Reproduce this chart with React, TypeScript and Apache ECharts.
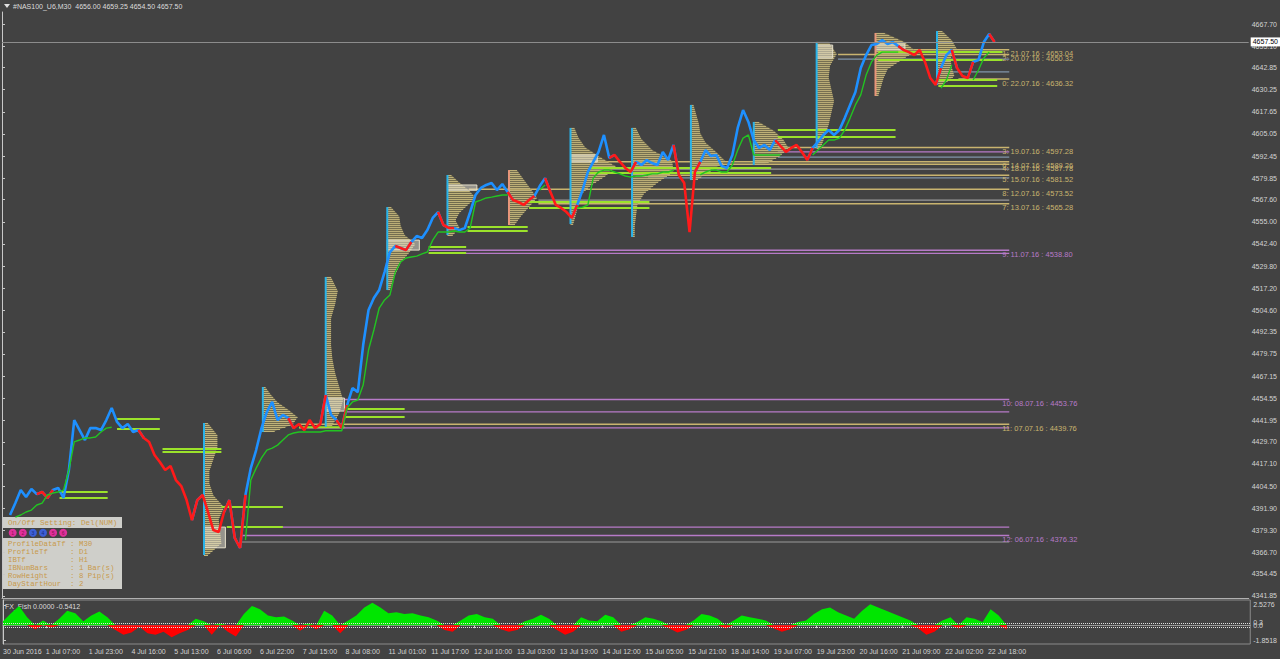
import React, { useEffect, useRef } from "react";
import * as echarts from "echarts";

// ---------- axis labels ----------
const timeLabels = ["30 Jun 2016","1 Jul 07:00","1 Jul 23:00","4 Jul 16:00","5 Jul 13:00","6 Jul 06:00","6 Jul 22:00","7 Jul 15:00","8 Jul 08:00","11 Jul 01:00","11 Jul 17:00","12 Jul 10:00","13 Jul 03:00","13 Jul 19:00","14 Jul 12:00","15 Jul 05:00","15 Jul 21:00","18 Jul 14:00","19 Jul 07:00","19 Jul 23:00","20 Jul 16:00","21 Jul 09:00","22 Jul 02:00","22 Jul 18:00"];
const barsPerTimeLabel = 32;
const priceTicks = [4667.70,4655.10,4642.85,4630.25,4617.65,4605.05,4592.45,4579.85,4567.60,4555.00,4542.40,4529.80,4517.20,4504.60,4492.35,4479.75,4467.15,4454.55,4441.95,4429.70,4417.10,4404.50,4391.90,4379.30,4366.70,4354.45,4341.85];
const fishTicks = [2.5276, 0.3, 0.0, -1.8518];
const fishTickLabels = ["2.5276", "0.3", "0.0", "-1.8518"];
const lastPrice = 4657.5;

// ---------- price (M30 bars, sampled every 4 bars from bar 6) ----------
const priceStart = 6;
const priceStep = 4;
const priceVals = [4388.0,4394.8,4402.2,4398.2,4402.8,4399.9,4401.1,4397.7,4402.2,4403.4,4397.7,4413.6,4442.1,4436.4,4430.7,4437.5,4437.5,4436.4,4442.1,4449.0,
4441.0,4437.5,4439.8,4435.3,4436.4,4431.9,4429.6,4422.2,4418.2,4413.6,4415.9,4407.9,4404.5,4396.5,4385.1,4396.5,4399.4,4389.7,4379.4,4378.3,
4389.7,4396.5,4374.9,4369.2,4399.4,4414.7,4425.0,4437.5,4446.7,4452.4,4442.1,4445.0,4443.2,4437.5,4439.8,4436.4,4442.1,4437.5,4439.8,4456.4,
4445.0,4442.1,4437.5,4450.6,4460.3,4458.0,4484.8,4504.8,4511.6,4516.2,4526.4,4537.8,4541.2,4540.1,4538.9,4543.5,4546.9,4545.8,4550.3,4557.2,
4560.6,4553.2,4551.5,4551.5,4550.3,4551.5,4560.6,4570.3,4574.3,4576.0,4577.1,4573.1,4576.5,4572.0,4567.4,4566.3,4564.6,4567.4,4569.7,4575.4,
4579.9,4572.0,4564.6,4562.9,4560.6,4557.2,4564.6,4573.1,4583.4,4589.1,4594.8,4604.5,4591.4,4593.1,4589.1,4585.7,4583.4,4589.1,4587.4,4590.2,
4588.5,4587.4,4594.8,4590.2,4598.8,4581.7,4577.1,4549.2,4583.4,4589.1,4595.9,4592.5,4593.1,4586.8,4585.7,4593.1,4608.5,4618.7,4611.9,4601.6,
4597.1,4598.8,4595.9,4601.6,4598.2,4594.8,4597.1,4598.8,4594.8,4590.2,4597.1,4600.5,4604.5,4607.3,4604.5,4607.3,4614.1,4621.6,4629.0,4642.6,
4650.0,4655.7,4656.3,4658.6,4656.3,4657.4,4655.2,4652.9,4651.7,4650.0,4652.9,4646.1,4636.9,4633.0,4642.6,4650.0,4652.9,4642.6,4638.1,4636.9,
4646.1,4647.2,4657.4,4662.0,4657.4];
// sample index ranges drawn in red (falling bars)
const redRanges = [[6,7],[25,34],[36,40],[42,43],[53,58],[62,62],[73,74],[81,82],[94,97],[101,105],[113,116],[125,128],[144,149],[167,173],[177,179],[184,184]];

// trailing line (same sampling; null = not drawn)
const trailVals = [null,4386.8,4388.0,4389.7,4390.8,4393.7,4394.8,4399.4,4400.5,4401.1,4402.2,4413.6,4429.6,4430.7,4431.9,4431.9,4432.4,4435.3,4437.5,4438.0,
null,null,null,null,null,null,null,null,null,null,null,null,null,null,null,null,null,null,null,null,
null,null,null,null,4373.7,4407.9,4414.7,4420.5,4425.0,4426.1,4427.8,4430.7,4433.6,4434.7,4435.3,4435.3,4435.3,4435.3,4435.3,4436.0,
4436.0,4436.0,4436.0,4449.0,4452.4,4453.5,4462.0,4482.0,4493.4,4505.9,4510.5,4513.3,4526.4,4532.1,4534.4,4535.0,4535.5,4536.7,4537.8,4544.6,
4549.2,4549.2,4549.2,4549.8,4549.2,4549.2,4551.5,4566.3,4567.4,4568.6,4569.1,4569.7,4570.3,4570.3,null,null,null,null,null,4573.1,
4576.0,null,null,null,null,null,4562.9,4563.4,4564.6,4580.0,4583.4,4584.5,4584.5,4583.4,4582.3,4581.1,4580.5,4581.1,4581.1,4581.7,
4582.3,4582.3,4583.4,4583.4,4584.5,null,null,null,null,4581.7,4583.4,4584.5,4584.5,4583.4,4583.4,4587.4,4595.9,4602.7,4604.5,4593.1,
4593.1,4593.1,4593.1,4593.1,4593.1,null,null,null,null,null,4593.1,4595.9,4598.8,4601.6,4601.6,4602.7,4607.3,4614.1,4621.6,4627.3,
4638.6,4646.1,4650.0,4651.7,4651.7,4651.7,4651.7,null,null,null,null,null,null,null,4631.2,4635.8,4644.3,null,null,null,
4635.8,4641.5,4648.3,4651.7,null];

// ---------- daily market profiles ----------
const dayDates = ["06.07.16","07.07.16","08.07.16","11.07.16","12.07.16","13.07.16","14.07.16","15.07.16","18.07.16","19.07.16","20.07.16","21.07.16","22.07.16"];
const dayStartBar = [151,195,242,288,333,379,425,471,515,562,609,653,699];
const dayHigh = [4440.4,4460.9,4523.6,4563.4,4581.7,4584.5,4608.5,4608.5,4621.6,4611.9,4657.5,4662.6,4663.7];
const dayLow = [4365.2,4435.3,4438.1,4516.2,4547.5,4553.2,4553.8,4546.4,4578.8,4587.4,4597.1,4626.7,4633.0];
const dayLineKind = ["c","c","c","c","c","s","c","c","c","c","c","s","c"];
const profileWidths = [
  [3,10,10,7,4,4,7,15,11,12,13,3],
  [2,6,11,19,26,22,7],
  [4,9,7,4,4,4,5,7,10,13,10,4],
  [3,9,10,13,21,16,10,7,4,2],
  [3,9,16,21,15,9,6,9,4],
  [6,11,16,21,15,9,4],
  [3,6,11,22,34,26,15,7,6,4,2],
  [3,7,15,30,31,19,9,4,3,2,2],
  [2,4,6,7,11,19,26,15,4],
  [4,15,22,26,19,7],
  [9,15,10,9,11,13,11,9,6,3],
  [7,22,30,19,9,6,4,2],
  [4,11,15,10,11,13,4],
];
// initial-balance boxes: [startBar, endBar, high, low]
const ibBoxes = [[151,167,4381.1,4369.3],[242,256,4454.6,4447.2],[288,312,4544.6,4538.9],[333,355,4576.0,4573.0],[425,445,4593.1,4589.1],[609,621,4655.7,4648.3],[653,675,4656.3,4652.9]];
// initial-balance lines: [startBar, endBar, price]
const ibLines = [[43,79,4401.1],[43,79,4397.7],[86,118,4442.7],[86,118,4437.0],[120,164,4425.6],[120,164,4423.9],[164,210,4392.6],[168,210,4381.1],[222,256,4438.0],[256,301,4448.4],[256,301,4443.8],[319,347,4540.7],[319,347,4537.2],[348,393,4552.1],[348,393,4549.8],[394,484,4566.3],[394,484,4562.9],[439,575,4585.7],[439,575,4582.8],[580,668,4607.3],[580,668,4603.3],[655,748,4651.8],[655,748,4647.2],[700,744,4635.8],[700,744,4632.4]];

// ---------- naked POC levels ----------
const levelNums = [0,1,2,3,4,5,6,7,8,9,10,11,12];
const levelDates = ["22.07.16","21.07.16","20.07.16","19.07.16","18.07.16","15.07.16","14.07.16","13.07.16","12.07.16","11.07.16","08.07.16","07.07.16","06.07.16"];
const levelPrices = [4636.32,4653.04,4650.32,4597.28,4587.78,4581.52,4589.26,4565.28,4573.52,4538.80,4453.76,4439.76,4376.32];
const levelKind = ["k","k","k","k","k","k","k","k","k","p","p","k","p"];
const levelStart = [715,670,625,580,521,483,439,401,349,319,256,222,178];
const levelEnd = 753;
// value-area lines: [startBar, price, kind]
const vaLines: [number, number, string][] = [[256,4446.7,"p"],[222,4437.6,"p"],[178,4381.1,"p"],[178,4372.6,"g"],[319,4537.0,"p"],[580,4594.8,"p"],[580,4591.9,"b"],[439,4585.0,"g"],[483,4580.0,"b"],[401,4567.4,"g"],[625,4647.7,"b"],[700,4640.4,"b"]];

// ---------- FX_Fish oscillator (every 6 bars from bar 0) ----------
const fishStep = 6;
const fishVals = [0.5,1.5,2.4,1.0,-0.5,0.6,-0.3,0.8,1.8,1.5,0.5,1.2,1.7,1.0,-0.6,-1.2,-0.9,-0.2,-1.0,-1.2,-0.8,-1.5,-1.0,-0.6,0.8,0.5,-1.2,0.2,-0.8,-1.4,1.4,2.4,2.0,1.2,1.0,1.1,0.6,-0.7,0.2,-0.5,1.8,1.2,-1.0,0.6,1.2,2.2,2.8,2.2,1.5,1.6,1.4,1.5,1.2,1.0,0.6,-0.6,-0.8,0.6,1.2,1.4,1.0,0.8,-0.5,-0.8,-0.6,0.5,0.8,1.3,0.8,-0.6,-1.2,-0.8,1.0,0.6,0.5,1.3,1.0,-0.8,-0.5,0.4,1.0,0.8,0.5,-0.4,-0.9,-0.6,0.6,1.4,1.2,0.8,-0.4,0.6,1.2,1.0,0.8,0.6,-0.4,-0.8,-0.5,0.4,0.6,1.4,2.0,2.2,1.6,1.2,0.8,1.8,2.6,2.2,1.8,1.4,1.0,0.6,-0.4,-1.2,-0.8,0.6,1.0,-0.4,1.0,0.8,0.4,2.0,1.2,-0.5];

// ---------- info panel ----------
const settingRows = [["ProfileDataTf","M30"],["ProfileTf","D1"],["IBTf","H1"],["IBNumBars","1 Bar(s)"],["RowHeight","8 Pip(s)"],["DayStartHour","2"]];
const buttonKinds = ["m","m","b","b","m","m"];

const C = {
  bg: "#424242",
  blue: "#1e90ff",
  red: "#ff1a1a",
  trail: "#22c422",
  ib: "#9be22b",
  cyan: "#29b3ea",
  salmon: "#e9967a",
  khaki: "#c9b46f",
  purple: "#b77ac8",
  gray: "#9a9a9a",
  grayBlue: "#8195aa",
  profileFill: "rgba(150,138,88,0.55)",
  profileRow: "#c2b47a",
  axisText: "#d4d4d4",
};
const FONT = '"Liberation Sans", Arial, sans-serif';

function buildOption() {
  const isRed = priceVals.map((_, i) => redRanges.some(([a, b]) => i >= a && i <= b));
  const x = (i: number) => priceStart + i * priceStep;
  const blueData = priceVals.map((v, i) => {
    const show = !isRed[i] || (i > 0 && !isRed[i - 1]) || (i < priceVals.length - 1 && !isRed[i + 1]);
    return [x(i), show ? v : null];
  });
  const redData = priceVals.map((v, i) => {
    const show = isRed[i] || (i > 0 && isRed[i - 1]) || (i < priceVals.length - 1 && isRed[i + 1]);
    return [x(i), show ? v : null];
  });
  const trailData = trailVals.map((v, i) => [x(i), v]);
  const fishPos = fishVals.map((v, i) => [i * fishStep, v > 0 ? v : 0]);
  const fishNeg = fishVals.map((v, i) => [i * fishStep, v < 0 ? v : 0]);
  const lvlColor: Record<string, string> = { k: C.khaki, p: C.purple, g: C.gray, b: C.grayBlue };

  const graphics: any[] = [
    { type: "polygon", shape: { points: [[4, 4], [10, 4], [7, 8]] }, style: { fill: "#e0e0e0" } },
    { type: "text", x: 13, y: 6, style: { text: "#NAS100_U6,M30  4656.00 4659.25 4654.50 4657.50", fill: "#dcdcdc", font: `7px ${FONT}`, verticalAlign: "middle" } },
    { type: "text", x: 5, y: 606, style: { text: "FX_Fish 0.0000 -0.5412", fill: "#dcdcdc", font: `7px ${FONT}`, verticalAlign: "middle" } },
    { type: "line", shape: { x1: 2.5, y1: 12, x2: 2.5, y2: 598 }, style: { stroke: "#8a8a8a", lineWidth: 1 } },
    { type: "rect", shape: { x: 3, y: 517, width: 119, height: 11 }, style: { fill: "#cfcfca" } },
    { type: "text", x: 8, y: 522.5, style: { text: "On/Off Setting: Del(NUM)", fill: "#c89a4c", font: `7.6px "Liberation Mono", monospace`, verticalAlign: "middle" } },
    { type: "rect", shape: { x: 3, y: 538, width: 119, height: 51 }, style: { fill: "#cfcfca" } },
  ];
  buttonKinds.forEach((k, i) => {
    const cx = 12.7 + i * 10.1;
    graphics.push({ type: "circle", shape: { cx, cy: 532.7, r: 4 }, style: { fill: k === "m" ? "#e0309a" : "#3c5fd6" } });
    graphics.push({ type: "text", x: cx, y: 533, style: { text: String(i + 1), fill: k === "m" ? "#8a1050" : "#1a2c80", font: `5px ${FONT}`, align: "center", verticalAlign: "middle" } });
  });
  settingRows.forEach(([k, v], i) => {
    graphics.push({ type: "text", x: 8, y: 543.5 + i * 8.1, style: { text: `${k.padEnd(14)}: ${v}`, fill: "#c89a4c", font: `7.4px "Liberation Mono", monospace`, verticalAlign: "middle" } });
  });

  return {
    backgroundColor: C.bg,
    animation: false,
    graphic: graphics,
    grid: [
      { left: 2, right: 28, top: 12, height: 586, show: false },
      { left: 2, right: 28, top: 600, height: 44, show: true, borderColor: "#8a8a8a", borderWidth: 1 },
    ],
    xAxis: [
      { type: "value", gridIndex: 0, min: 0, max: 932, axisLabel: { show: false }, axisTick: { show: false }, splitLine: { show: false }, axisLine: { show: true, lineStyle: { color: "#b0b0b0" } } },
      {
        type: "value", gridIndex: 1, min: 0, max: 932, splitLine: { show: false },
        axisLine: { show: true, lineStyle: { color: "#9a9a9a" } },
        axisTick: { show: true, length: 3, customValues: timeLabels.map((_, i) => i * barsPerTimeLabel), lineStyle: { color: "#c8c8c8" } },
        axisLabel: {
          show: true, customValues: timeLabels.map((_, i) => i * barsPerTimeLabel),
          formatter: (v: number) => timeLabels[Math.round(v / barsPerTimeLabel)] ?? "",
          color: C.axisText, fontSize: 7, fontFamily: FONT, align: "left", margin: 4,
        },
      },
    ],
    yAxis: [
      {
        type: "value", gridIndex: 0, position: "right", min: 4340.71, max: 4674.54, splitLine: { show: false },
        axisLine: { show: true, lineStyle: { color: "#c8c8c8" } },
        axisTick: { show: true, length: 3, customValues: priceTicks, lineStyle: { color: "#c8c8c8" } },
        axisLabel: { customValues: priceTicks, formatter: (v: number) => v.toFixed(2), color: C.axisText, fontSize: 7, fontFamily: FONT, margin: 3 },
      },
      {
        type: "value", gridIndex: 1, position: "right", min: -2.34, max: 3.14, splitLine: { show: false },
        axisLine: { show: true, lineStyle: { color: "#c8c8c8" } },
        axisTick: { show: true, length: 3, customValues: fishTicks, lineStyle: { color: "#c8c8c8" } },
        axisLabel: { customValues: fishTicks, formatter: (v: number) => fishTickLabels[fishTicks.indexOf(v)] ?? String(v), color: C.axisText, fontSize: 7, fontFamily: FONT, margin: 3 },
      },
    ],
    series: [
      // value-area lines
      {
        type: "custom", xAxisIndex: 0, yAxisIndex: 0, silent: true,
        data: vaLines.map((l, i) => [i, l[1]]),
        renderItem: (_p: any, api: any) => {
          const l = vaLines[api.value(0)];
          const a = api.coord([l[0], l[1]]);
          const b = api.coord([levelEnd, l[1]]);
          return { type: "line", shape: { x1: a[0], y1: a[1], x2: b[0], y2: b[1] }, style: { stroke: lvlColor[l[2]], lineWidth: 1.2 } };
        },
      },
      // POC levels + labels
      {
        type: "custom", xAxisIndex: 0, yAxisIndex: 0, silent: true,
        data: levelPrices.map((p, i) => [i, p]),
        renderItem: (_p: any, api: any) => {
          const i = api.value(0);
          const a = api.coord([levelStart[i], levelPrices[i]]);
          const b = api.coord([levelEnd, levelPrices[i]]);
          const col = lvlColor[levelKind[i]];
          return {
            type: "group",
            children: [
              { type: "line", shape: { x1: a[0], y1: a[1], x2: b[0], y2: b[1] }, style: { stroke: col, lineWidth: 1.5 } },
              { type: "text", x: b[0] - 7, y: b[1] + 4, style: { text: `${levelNums[i]}: ${levelDates[i]} : ${levelPrices[i].toFixed(2)}`, fill: col, font: `7.5px ${FONT}`, align: "left", verticalAlign: "middle" } },
            ],
          };
        },
      },
      // profiles: outline fill + horizontal histogram rows
      {
        type: "custom", xAxisIndex: 0, yAxisIndex: 0, silent: true,
        data: dayDates.map((_, i) => [i, dayHigh[i]]),
        renderItem: (_p: any, api: any) => {
          const d = api.value(0);
          const w = profileWidths[d];
          const n = w.length;
          const x0 = api.coord([dayStartBar[d], dayHigh[d]])[0];
          const pts = [api.coord([dayStartBar[d], dayHigh[d]])];
          const edge: number[][] = [];
          for (let k = 0; k < n; k++) {
            const p = dayHigh[d] - ((dayHigh[d] - dayLow[d]) * k) / (n - 1);
            const c = api.coord([dayStartBar[d] + w[k], p]);
            pts.push(c);
            edge.push(c);
          }
          pts.push(api.coord([dayStartBar[d], dayLow[d]]));
          const children: any[] = [{ type: "polygon", shape: { points: pts }, style: { fill: C.profileFill } }];
          const top = edge[0][1];
          const bot = edge[n - 1][1];
          for (let y = top; y <= bot; y += 2) {
            let k = 0;
            while (k < n - 2 && edge[k + 1][1] < y) k++;
            const a = edge[k], b = edge[k + 1];
            const f = b[1] === a[1] ? 0 : Math.min(1, Math.max(0, (y - a[1]) / (b[1] - a[1])));
            const xr = a[0] + (b[0] - a[0]) * f;
            children.push({ type: "line", shape: { x1: x0, y1: y + 0.5, x2: xr, y2: y + 0.5 }, style: { stroke: C.profileRow, lineWidth: 1 } });
          }
          return { type: "group", children };
        },
      },
      // IB boxes
      {
        type: "custom", xAxisIndex: 0, yAxisIndex: 0, silent: true,
        data: ibBoxes.map((b, i) => [i, b[2]]),
        renderItem: (_p: any, api: any) => {
          const b = ibBoxes[api.value(0)];
          const a = api.coord([b[0], b[2]]);
          const c = api.coord([b[1], b[3]]);
          return { type: "rect", shape: { x: a[0], y: a[1], width: c[0] - a[0], height: c[1] - a[1] }, style: { fill: "rgba(232,228,212,0.5)", stroke: "#e6e0cc", lineWidth: 1 } };
        },
      },
      // IB lines
      {
        type: "custom", xAxisIndex: 0, yAxisIndex: 0, silent: true,
        data: ibLines.map((l, i) => [i, l[2]]),
        renderItem: (_p: any, api: any) => {
          const l = ibLines[api.value(0)];
          const a = api.coord([l[0], l[2]]);
          const b = api.coord([l[1], l[2]]);
          return { type: "line", shape: { x1: a[0], y1: a[1], x2: b[0], y2: b[1] }, style: { stroke: C.ib, lineWidth: 2 } };
        },
      },
      // day separators
      {
        type: "custom", xAxisIndex: 0, yAxisIndex: 0, silent: true,
        data: dayDates.map((_, i) => [i, dayHigh[i]]),
        renderItem: (_p: any, api: any) => {
          const d = api.value(0);
          const a = api.coord([dayStartBar[d], dayHigh[d]]);
          const b = api.coord([dayStartBar[d], dayLow[d]]);
          return { type: "line", shape: { x1: a[0], y1: a[1], x2: b[0], y2: b[1] }, style: { stroke: dayLineKind[d] === "s" ? C.salmon : C.cyan, lineWidth: 2 } };
        },
      },
      {
        type: "line", xAxisIndex: 0, yAxisIndex: 0, data: blueData, symbol: "none", connectNulls: false,
        lineStyle: { color: C.blue, width: 2.6 }, itemStyle: { color: C.blue },
        markLine: {
          silent: true, symbol: "none",
          data: [{ yAxis: lastPrice }],
          lineStyle: { color: "#8c8c8c", width: 1, type: "solid" },
          label: { show: true, position: "end", formatter: lastPrice.toFixed(2), backgroundColor: "#ffffff", color: "#000", fontSize: 7, fontFamily: FONT, padding: [1, 2], distance: 2 },
        },
      },
      { type: "line", xAxisIndex: 0, yAxisIndex: 0, data: redData, symbol: "none", connectNulls: false, lineStyle: { color: C.red, width: 2.6 }, itemStyle: { color: C.red } },
      { type: "line", xAxisIndex: 0, yAxisIndex: 0, data: trailData, symbol: "none", connectNulls: false, lineStyle: { color: C.trail, width: 1.4 }, itemStyle: { color: C.trail } },
      // fish
      {
        type: "line", xAxisIndex: 1, yAxisIndex: 1, data: fishPos, symbol: "none", lineStyle: { width: 0 }, areaStyle: { color: "#00e600", opacity: 1 },
        markLine: { silent: true, symbol: "none", data: [{ yAxis: 0.2 }, { yAxis: -0.2 }], lineStyle: { color: "#e0e0e0", type: "dotted", width: 1 }, label: { show: false } },
      },
      { type: "line", xAxisIndex: 1, yAxisIndex: 1, data: fishNeg, symbol: "none", lineStyle: { width: 0 }, areaStyle: { color: "#ff0000", opacity: 1 } },
    ],
  };
}

export default function App() {
  const ref = useRef<HTMLDivElement>(null);
  useEffect(() => {
    document.body.style.margin = "0";
    const chart = echarts.init(ref.current!, null, { renderer: "svg" });
    chart.setOption(buildOption() as any);
    return () => chart.dispose();
  }, []);
  return <div ref={ref} style={{ width: 1280, height: 659 }} />;
}
